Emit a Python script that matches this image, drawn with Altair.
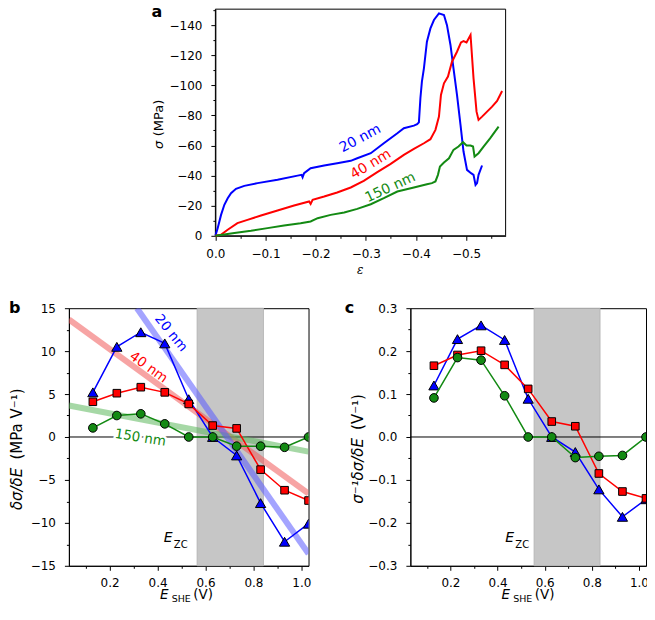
import altair as alt
import pandas as pd

FONT = "DejaVu Sans"
BLUE, RED, GREEN = "#0000ff", "#ff0000", "#138a13"

# ---------------- panel a : stress vs strain ----------------
a20_eps = [0, -0.0046, -0.0113, -0.0179, -0.0246, -0.0312, -0.0411, -0.0577, -0.0842, -0.124,
           -0.164, -0.172, -0.174, -0.177, -0.190, -0.217, -0.243, -0.270, -0.283, -0.310,
           -0.336, -0.363, -0.376, -0.396, -0.4025, -0.406, -0.409, -0.412, -0.416, -0.422,
           -0.429, -0.436, -0.446, -0.456, -0.462, -0.469, -0.475, -0.482, -0.489, -0.495,
           -0.502, -0.510, -0.515, -0.519, -0.522, -0.525, -0.532]
a20_sig = [0, -5.1, -13.9, -20.6, -25.0, -28.3, -31.2, -33.2, -35.0, -37.2,
           -40.0, -40.5, -38.9, -41.6, -44.9, -46.7, -48.2, -49.8, -51.5, -54.9,
           -61.5, -68.1, -71.5, -73.2, -74.1, -75.4, -91.4, -102.4, -111.3, -129.0,
           -137.8, -143.4, -147.8, -146.7, -140.0, -126.8, -111.3, -93.6, -73.7, -56.0,
           -43.8, -41.6, -40.5, -33.8, -35.0, -40.5, -46.7]
a40_eps = [0, -0.011, -0.0245, -0.044, -0.064, -0.091, -0.124, -0.157, -0.187, -0.190,
           -0.194, -0.217, -0.243, -0.270, -0.296, -0.323, -0.349, -0.376, -0.396, -0.416,
           -0.429, -0.439, -0.446, -0.450, -0.456, -0.464, -0.472, -0.482, -0.490, -0.495,
           -0.501, -0.509, -0.515, -0.521, -0.525, -0.532, -0.542, -0.552, -0.562, -0.572]
a40_sig = [0, -0.7, -4.0, -8.4, -10.6, -13.5, -16.8, -20.1, -22.8, -21.2,
           -23.9, -26.1, -28.8, -32.1, -36.5, -42.3, -47.6, -53.8, -57.7, -61.5,
           -64.2, -70.4, -79.2, -93.6, -101.3, -105.8, -115.7, -122.3, -128.5, -129.4,
           -128.5, -133.4, -104.6, -82.5, -77.0, -79.2, -82.5, -85.8, -89.6, -96.2]
a150_eps = [0, -0.038, -0.071, -0.104, -0.137, -0.170, -0.190, -0.204, -0.230, -0.257,
            -0.283, -0.310, -0.336, -0.363, -0.396, -0.422, -0.432, -0.439, -0.444, -0.448,
            -0.456, -0.466, -0.475, -0.485, -0.494, -0.501, -0.509, -0.514, -0.517, -0.525,
            -0.535, -0.548, -0.565]
a150_sig = [0, -1.8, -3.3, -5.1, -6.9, -8.4, -9.5, -11.7, -13.9, -15.5,
            -17.9, -21.0, -25.0, -29.4, -32.1, -34.3, -35.0, -36.1, -40.5, -46.0,
            -48.7, -51.5, -57.1, -59.3, -62.2, -60.0, -60.0, -59.3, -52.7, -54.9,
            -59.3, -64.8, -72.6]

a_domain_x = [-0.579, 0]
a_domain_y = [-150.6, 0]
a_ticks_x = [0, -0.05, -0.1, -0.15, -0.2, -0.25, -0.3, -0.35, -0.4, -0.45, -0.5, -0.55]
a_ticks_y = [0, -10, -20, -30, -40, -50, -60, -70, -80, -90, -100, -110, -120, -130, -140, -150]
a_labels = ["20 nm", "40 nm", "150 nm"]
a_label_eps = [-0.289, -0.310, -0.349]
a_label_sig = [-64.6, -47.5, -32.0]
a_label_angle = [332, 329, 335]

# ---------------- panels b, c ----------------
E_she = [0.13, 0.23, 0.33, 0.43, 0.53, 0.63, 0.73, 0.83, 0.93, 1.03]
b_20 = [5.2, 10.5, 12.2, 10.9, 4.4, 0.0, -2.15, -7.7, -12.2, -10.1]
b_40 = [4.1, 5.1, 5.8, 5.2, 3.85, 1.33, 1.0, -3.8, -6.2, -7.4]
b_150 = [1.06, 2.5, 2.7, 1.53, 0.0, 0.0, -1.07, -1.07, -1.2, 0.0]
c_20 = [0.12, 0.228, 0.26, 0.226, 0.089, 0.0, -0.035, -0.122, -0.186, -0.145]
c_40 = [0.166, 0.191, 0.201, 0.168, 0.112, 0.036, 0.025, -0.085, -0.127, -0.143]
c_150 = [0.091, 0.185, 0.179, 0.096, 0.0, 0.0, -0.048, -0.045, -0.043, 0.0]

fit_20_E, fit_20_b = [0.314, 1.03], [15.0, -13.6]
fit_40_E, fit_40_b = [0.03, 1.03], [13.7, -6.6]
fit_150_E, fit_150_b = [0.03, 1.03], [3.66, -1.7]
ezc_b = [0.565, 0.842]
ezc_c = [0.555, 0.835]

bc_ticks_x = [0.1, 0.2, 0.3, 0.4, 0.5, 0.6, 0.7, 0.8, 0.9, 1.0]
b_ticks_y = [-15, -12.5, -10, -7.5, -5, -2.5, 0, 2.5, 5, 7.5, 10, 12.5, 15]
c_ticks_y = [-0.3, -0.25, -0.2, -0.15, -0.1, -0.05, 0, 0.05, 0.1, 0.15, 0.2, 0.25, 0.3]
b_labels = ["20 nm", "40 nm", "150 nm"]
b_label_E = [0.456, 0.3625, 0.328]
b_label_v = [12.1, 8.1, -0.1]
b_label_angle = [51, 36, 9]


# ---------------- helpers ----------------
def make_axis(values, major, fmt, pad, offset=0):
    return alt.Axis(
        values=values, title=None, grid=False, offset=offset,
        labelExpr=f"({major}) ? format(datum.value, '{fmt}') : ''",
        tickSize={"condition": {"test": major, "value": 4.5}, "value": 2.5},
        domainColor="black", tickColor="black", labelColor="black",
        labelFont=FONT, labelFontSize=12, labelPadding=pad,
        tickWidth=1, domainWidth=1, labelFlush=False, labelOverlap=False,
    )


one = pd.DataFrame({"k": [0]})


def txt(text, x, y, size=14, style="normal", weight="normal", angle=0,
        align="center", baseline="middle", font=FONT, color="black"):
    kw = dict(text=text, fontSize=size, fontStyle=style, fontWeight=weight,
              align=align, baseline=baseline, font=font, color=color)
    if angle:
        kw["angle"] = angle
    return alt.Chart(one).mark_text(**kw).encode(x=alt.value(x), y=alt.value(y))


# ---------------- panel a ----------------
A_OFF, A_W, A_H = 146.7, 290.7, 227

rows = []
for name, ee, ss in [("20 nm", a20_eps, a20_sig), ("40 nm", a40_eps, a40_sig),
                     ("150 nm", a150_eps, a150_sig)]:
    for i, (e, s) in enumerate(zip(ee, ss)):
        rows.append({"series": name, "eps": e, "sig": s, "i": i})
dfa = pd.DataFrame(rows)

xa = alt.X("eps:Q", scale=alt.Scale(domain=a_domain_x, range=[A_OFF + A_W, A_OFF],
                                     nice=False, zero=False),
           axis=make_axis(a_ticks_x, "abs(round(datum.value*100)) % 10 == 0", ".1f", 8.5))
ya = alt.Y("sig:Q", scale=alt.Scale(domain=a_domain_y, reverse=True, nice=False, zero=False),
           axis=make_axis(a_ticks_y, "abs(round(datum.value)) % 20 == 0", "d", 9, offset=-A_OFF))
cscale = alt.Scale(domain=["20 nm", "40 nm", "150 nm"], range=[BLUE, RED, GREEN])

frame = alt.Chart(pd.DataFrame({"eps": [a_domain_x[0]], "e2": [a_domain_x[1]],
                                "sig": [a_domain_y[0]], "s2": [a_domain_y[1]]})).mark_rect(
    fill="transparent", stroke="black", strokeWidth=1).encode(x=xa, x2="e2:Q", y=ya, y2="s2:Q")

a_lines = alt.Chart(dfa).mark_line(strokeWidth=2).encode(
    x=xa, y=ya, order="i:Q",
    color=alt.Color("series:N", scale=cscale, legend=None),
    detail="series:N")

dfa_lab = pd.DataFrame({"series": a_labels, "eps": a_label_eps, "sig": a_label_sig,
                        "ang": a_label_angle})
a_text_layers = []
for _, r in dfa_lab.iterrows():
    col = {"20 nm": BLUE, "40 nm": RED, "150 nm": GREEN}[r["series"]]
    a_text_layers.append(
        alt.Chart(dfa_lab[dfa_lab.series == r["series"]]).mark_text(
            fontSize=14, font=FONT, color=col, angle=int(r["ang"]), align="center",
            baseline="middle").encode(x=xa, y=ya, text="series:N"))

panel_a = alt.layer(
    frame, a_lines, *a_text_layers,
    txt("a", A_OFF - 64, 7.5, size=16, weight="bold", align="left", baseline="alphabetic"),
    txt("σ", A_OFF - 56.5, 136, size=13, style="italic", angle=270),
    txt("(MPa)", A_OFF - 56.5, 109, size=13, angle=270),
    txt("ε", A_OFF + 145, 261, size=12, style="italic", font="DejaVu Serif"),
).properties(width=A_OFF + A_W, height=A_H, view=alt.ViewBackground(stroke="transparent"))


# ---------------- panels b & c ----------------
def bc_panel(vals20, vals40, vals150, ydom, yticks, ymajor, yfmt, ezc, letter, letter_x,
             ytitle1, ytitle2, yt1_y, yt2_y, width, fits=None, labels=None):
    xenc = alt.X("E:Q", scale=alt.Scale(domain=[0.03, 1.03], nice=False, zero=False),
                 axis=make_axis(bc_ticks_x, "round(datum.value*10) % 2 == 0", ".1f", 7.5))
    yenc = alt.Y("v:Q", scale=alt.Scale(domain=ydom, nice=False, zero=False),
                 axis=make_axis(yticks, ymajor, yfmt, 9))
    layers = []
    shade = pd.DataFrame({"E": [ezc[0]], "E2": [ezc[1]]})
    layers.append(alt.Chart(shade).mark_rect(color="#c6c6c6", stroke="#b0b0b0", strokeWidth=0.8).encode(
        x=xenc, x2="E2:Q", y=alt.value(0), y2=alt.value(258)))
    layers.append(alt.Chart(pd.DataFrame({"v": [0.0]})).mark_rule(color="black", strokeWidth=1).encode(
        y=yenc))
    if fits is not None:
        for fe, fv, col in fits:
            fd = pd.DataFrame({"E": fe, "v": fv})
            layers.append(alt.Chart(fd).mark_line(color=col, strokeWidth=6, opacity=0.55, clip=True).encode(
                x=xenc, y=yenc))
    if labels is not None:
        for name, e, v, ang, col in labels:
            ld = pd.DataFrame({"E": [e], "v": [v], "t": [name]})
            if name == "150 nm":
                layers.append(alt.Chart(ld).mark_text(fontSize=13.5, font=FONT, color="white",
                                                      stroke="white", strokeWidth=5, angle=ang).encode(
                    x=xenc, y=yenc, text="t:N"))
            layers.append(alt.Chart(ld).mark_text(fontSize=13.5, font=FONT, color=col, angle=ang).encode(
                x=xenc, y=yenc, text="t:N"))
    for vals, col, shape, size in [(vals20, BLUE, "triangle-up", 105),
                                   (vals40, RED, "square", 58),
                                   (vals150, GREEN, "circle", 75)]:
        d = pd.DataFrame({"E": E_she, "v": vals})
        base = alt.Chart(d).encode(x=xenc, y=yenc)
        layers.append(base.mark_line(color=col, strokeWidth=1.5, clip=True))
        layers.append(base.mark_point(shape=shape, filled=True, color=col, stroke="black",
                                      strokeWidth=1, size=size, opacity=1, clip=True))
    layers += [
        txt(letter, letter_x, 5, size=16, weight="bold", align="left", baseline="alphabetic"),
        txt(ytitle1, -52, yt1_y, size=15, style="italic", angle=270),
        txt(ytitle2, -52, yt2_y, size=15, angle=270),
        txt("E", 95.5, 291, size=13.5, style="italic", baseline="alphabetic"),
        txt("SHE", 112.5, 294.5, size=9.5, baseline="alphabetic"),
        txt("(V)", 134.5, 291, size=13.5, baseline="alphabetic"),
        txt("E", 99.5, 234.5, size=14, style="italic", baseline="alphabetic"),
        txt("ZC", 112, 240.5, size=10, baseline="alphabetic"),
    ]
    return alt.layer(*layers).properties(width=width, height=258,
                                         view=alt.ViewBackground(stroke="black", strokeWidth=1))


panel_b = bc_panel(
    b_20, b_40, b_150, [-15, 15], b_ticks_y, "abs(round(datum.value*2)) % 10 == 0", "d",
    ezc_b, "b", -60, "δσ/δE", "(MPa V\u207b\u00b9)", 181, 116, 240,
    fits=[(fit_40_E, fit_40_b, "#f05a5a"), (fit_150_E, fit_150_b, "#5cb85c"),
          (fit_20_E, fit_20_b, "#5a5aff")],
    labels=[(b_labels[i], b_label_E[i], b_label_v[i], b_label_angle[i], [BLUE, RED, GREEN][i])
            for i in range(3)])

panel_c = bc_panel(
    c_20, c_40, c_150, [-0.3, 0.3], c_ticks_y, "abs(round(datum.value*100)) % 10 == 0", ".1f",
    ezc_c, "c", -65.6, "σ\u207b\u00b9δσ/δE", "(V\u207b\u00b9)", 163, 104, 236)

bottom = alt.hconcat(panel_b, panel_c, spacing=102, bounds="flush")
chart = alt.vconcat(panel_a, bottom, spacing=72.5, bounds="flush").properties(
    padding={"left": 0, "top": -5.3, "right": -2, "bottom": 0}
).configure_view(stroke="black")

chart.save("out.html", embed_options={"renderer": "svg", "actions": False})
